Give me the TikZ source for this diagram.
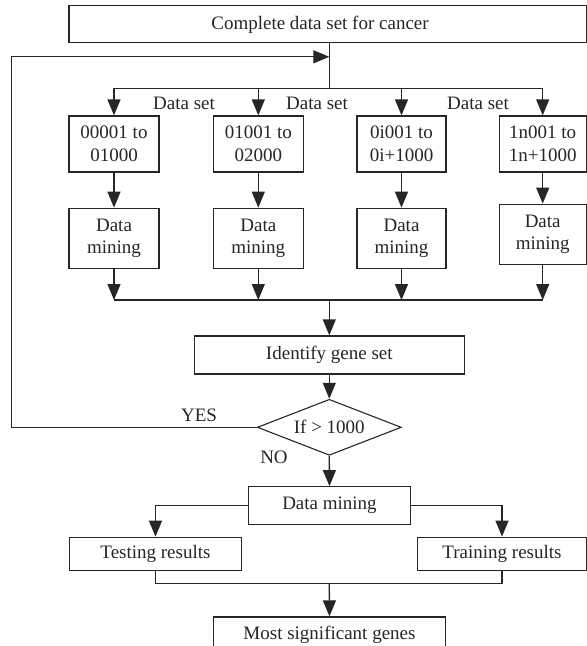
\documentclass[tikz,border=0pt]{standalone}
\usepackage{fontspec}
\setmainfont{Liberation Serif}
\usetikzlibrary{arrows.meta,shapes.geometric}
\begin{document}
\begin{tikzpicture}[x=1pt,y=-1pt,
  every node/.style={text=black!85, font=\fontsize{19}{22.5}\selectfont},
  box/.style={draw=black!85, line width=1.3pt, rectangle, inner sep=0pt, align=center},
  lbl/.style={inner sep=0pt},
  conn/.style={draw=black!85, line width=1.3pt},
  arr/.style={conn, -{Triangle[length=16pt,width=13pt]}}]
\useasboundingbox (0,0) rectangle (587,646);
\clip (0,0) rectangle (587,646);
\fill[white] (0,0) rectangle (587,646);

% top box
\node[box, minimum width=517.5pt, minimum height=37pt] (top) at (327.75,24.2) {};
\node[lbl] (toplbl) at (320,24.5) {Complete data set for cancer};

% row 1
\node[box, minimum width=90pt, minimum height=56pt] (b1) at (114,144) {00001 to\\01000};
\node[box, minimum width=90pt, minimum height=56pt] (b2) at (258.3,144) {01001 to\\02000};
\node[box, minimum width=89pt, minimum height=56pt] (b3) at (401.5,144) {0i001 to\\0i+1000};
\node[box, minimum width=87pt, minimum height=56pt] (b4) at (542.7,144) {1n001 to\\1n+1000};

% row 2
\node[box, minimum width=90pt, minimum height=60pt] (m1) at (114,238.3) {Data\\mining};
\node[box, minimum width=90pt, minimum height=60pt] (m2) at (258.3,238.3) {Data\\mining};
\node[box, minimum width=89pt, minimum height=60pt] (m3) at (401.5,238.3) {Data\\mining};
\node[box, minimum width=87pt, minimum height=60pt] (m4) at (542.7,234.2) {Data\\mining};

% data set labels
\node[lbl] (ds1) at (184,103) {Data set};
\node[lbl] (ds2) at (317,103) {Data set};
\node[lbl] (ds3) at (478,103) {Data set};

% middle
\node[box, minimum width=270pt, minimum height=38pt] (ident) at (329.3,355) {Identify gene set};
\node[draw=black!85, line width=1.1pt, shape=diamond, aspect=2.57, inner sep=0pt,
      minimum width=144pt, minimum height=56pt] (dia) at (329.3,427.3) {If > 1000};
\node[lbl] (yes) at (199,415) {YES};
\node[lbl] (no) at (274,457) {NO};

% lower
\node[box, minimum width=162.5pt, minimum height=37.5pt] (dm) at (329.5,505.5) {Data mining};
\node[box, minimum width=172.5pt, minimum height=33.5pt] (test) at (155.5,554) {Testing results};
\node[box, minimum width=169pt, minimum height=33.5pt] (train) at (502,554) {Training results};
\node[box, minimum width=232.5pt, minimum height=35pt] (most) at (329.5,634.5) {Most significant genes};

% coordinates
\coordinate (t0) at (329.3,42.7);
\coordinate (br) at (329.3,88.3);
\coordinate (lp) at (329.3,56.8);
\coordinate (lc) at (11.7,56.8);
\coordinate (mg) at (329.3,300);
\coordinate (mg2) at (329.3,583.3);

% trunk and branch
\draw[conn] (t0) -- (br);
\draw[conn] (b1.north |- br) -- (b4.north |- br);
\foreach \b in {b1,b2,b3,b4} \draw[arr] (\b.north |- br) -- (\b.north);

% row1 -> row2
\draw[arr] (b1.south) -- (m1.north);
\draw[arr] (b2.south) -- (m2.north);
\draw[arr] (b3.south) -- (m3.north);
\draw[arr] (b4.south) -- (m4.north);

% merge
\draw[conn] (m1.south |- mg) -- (m4.south |- mg);
\foreach \m in {m1,m2,m3,m4} \draw[arr] (\m.south) -- (\m.south |- mg);
\draw[arr] (mg) -- (ident.north);
\draw[arr] (ident.south) -- (dia.north);

% loop back
\draw[arr] (dia.west) -| (lc) -- (lp);

% lower part
\draw[arr] (dia.south) -- (dm.north);
\draw[arr] (dm.west) -| (test.north);
\draw[arr] (dm.east) -| (train.north);
\draw[conn] (test.south) |- (train.south |- mg2) -- (train.south);
\draw[arr] (mg2) -- (most.north);
\end{tikzpicture}
\end{document}
